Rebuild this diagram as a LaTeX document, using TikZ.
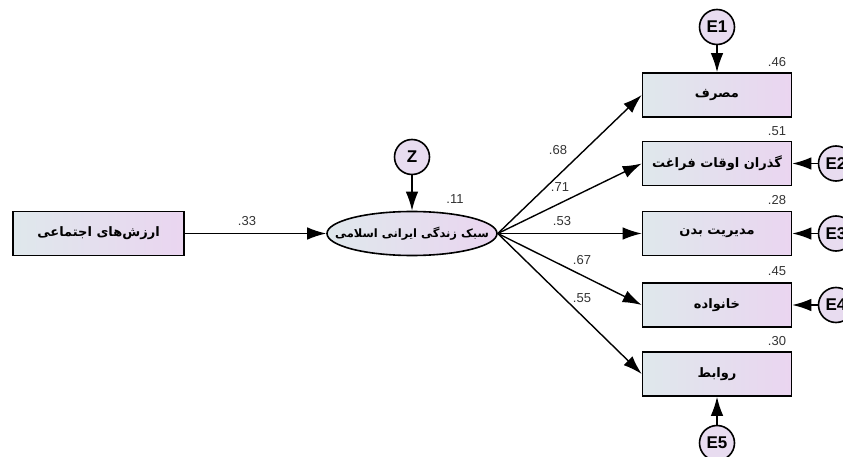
\documentclass[tikz,border=0pt]{standalone}
\usepackage{fontspec}
\setmainfont{Liberation Sans}
\newfontfamily\fa[Script=Arabic]{DejaVu Sans}
\TeXXeTstate=1
\usetikzlibrary{arrows.meta,shapes.geometric}
\definecolor{boxL}{HTML}{DFE8EC}
\definecolor{boxR}{HTML}{EAD5F0}
\definecolor{errfill}{HTML}{E8DCF0}
\definecolor{numcol}{HTML}{333333}
\tikzset{
  obs/.style={draw, line width=1.6pt, minimum width=149pt, minimum height=44pt,
    left color=boxL, right color=boxR, inner sep=0pt,
    font=\fa\bfseries\fontsize{13}{15}\selectfont},
  lat/.style={ellipse, draw, line width=1.6pt, minimum width=170pt, minimum height=44pt,
    left color=boxL, right color=boxR, inner sep=0pt},
  lattext/.style={inner sep=0pt, font=\fa\bfseries\fontsize{11.5}{14}\selectfont},
  err/.style={circle, draw, line width=1.6pt, minimum size=35pt, inner sep=0pt,
    fill=errfill, font=\bfseries\fontsize{17}{17}\selectfont},
  arr/.style={-{Latex[length=19pt,width=12.5pt]}, line width=1.4pt},
  num/.style={font=\fontsize{13}{13}\selectfont, text=numcol, inner sep=0pt},
}
\begin{document}
\begin{tikzpicture}[x=1pt,y=-1pt]
\useasboundingbox (0,0) rectangle (843,457);
% nodes
\node[obs, minimum width=171pt] (soc) at (98.5,233.5) {\beginR ارزش‌های اجتماعی\endR};
\node[lat] (life) at (412,233.5) {};
\node[lattext] (lifet) at (life.center) {\beginR سبک زندگی ایرانی اسلامی\endR};
\node[err] (z) at (412,157) {Z};
\node[obs] (b1) at (717,95) {\beginR مصرف\endR};
\node[obs] (b2) at (717,163.5) {\beginR گذران اوقات فراغت\endR};
\node[obs] (b3) at (717,233.5) {\beginR مدیریت بدن\endR};
\node[obs] (b4) at (717,305) {\beginR خانواده\endR};
\node[obs] (b5) at (717,374) {\beginR روابط\endR};
\node[err] (e1) at (717,27) {E1};
\node[err] (e2) at (836,163.5) {E2};
\node[err] (e3) at (836,233.5) {E3};
\node[err] (e4) at (836,305) {E4};
\node[err] (e5) at (717,443) {E5};
% connectors
\draw[arr] (soc) -- (life);
\draw[arr] (z) -- (life);
\draw[arr] (life.east) -- (b1.west);
\draw[arr] (life.east) -- (b2.west);
\draw[arr] (life.east) -- (b3.west);
\draw[arr] (life.east) -- (b4.west);
\draw[arr] (life.east) -- (b5.west);
\draw[arr] (e1) -- (b1);
\draw[arr] (e2) -- (b2);
\draw[arr] (e3) -- (b3);
\draw[arr] (e4) -- (b4);
\draw[arr] (e5) -- (b5);
% labels
\node[num] (l33) at (247,221) {.33};
\node[num] (l11) at (455,199) {.11};
\node[num] (l68) at (558,150) {.68};
\node[num] (l71) at (560,187) {.71};
\node[num] (l53) at (562,221) {.53};
\node[num] (l67) at (582,260) {.67};
\node[num] (l55) at (582,298) {.55};
\node[num] (r1) at (777,62) {.46};
\node[num] (r2) at (777,131) {.51};
\node[num] (r3) at (777,200) {.28};
\node[num] (r4) at (777,271) {.45};
\node[num] (r5) at (777,341) {.30};
\end{tikzpicture}
\end{document}
